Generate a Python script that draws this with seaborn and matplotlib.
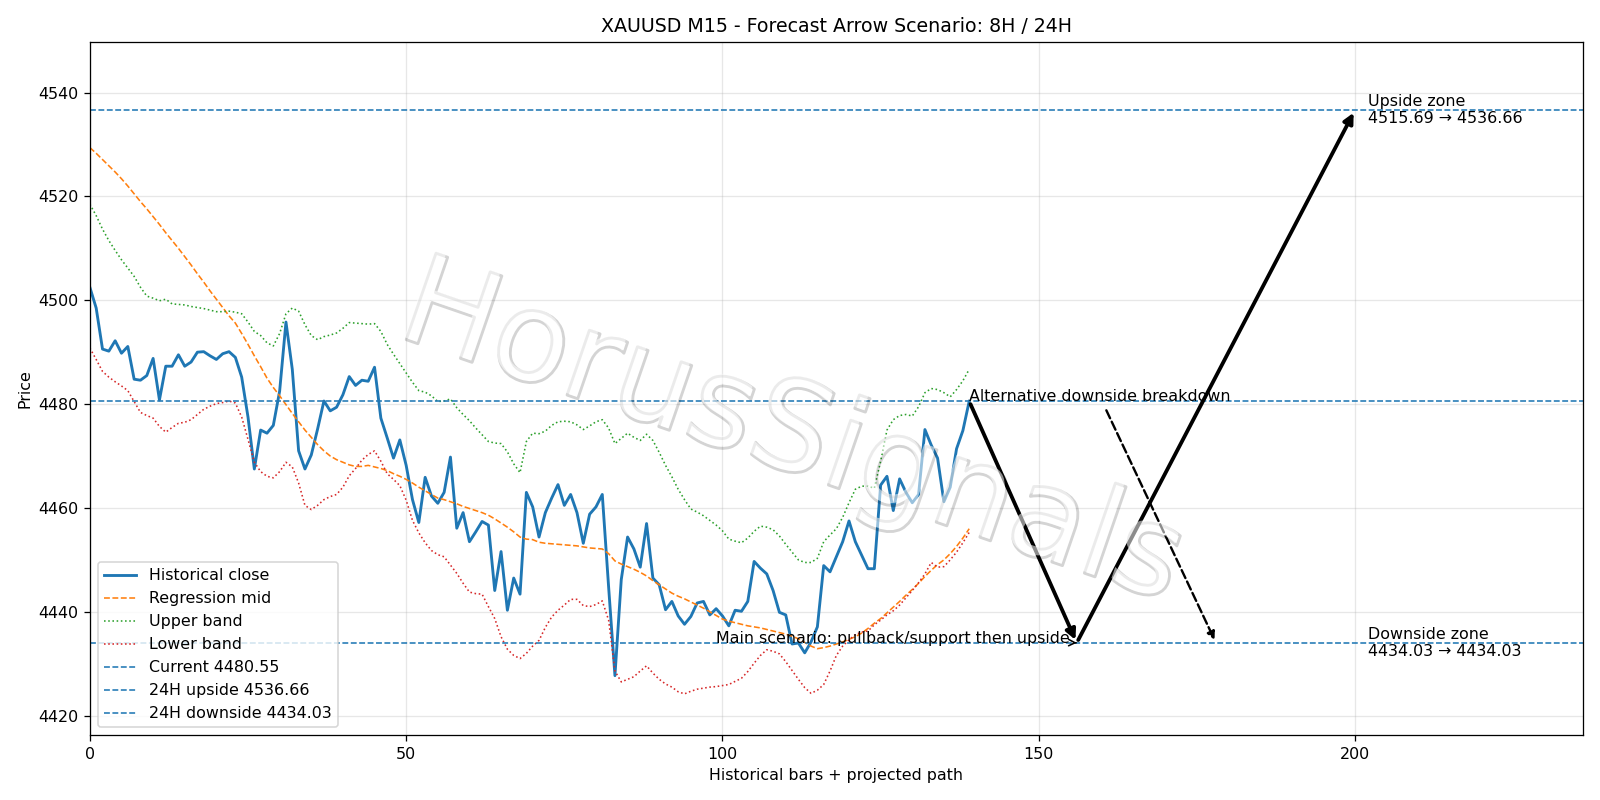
import numpy as np
import pandas as pd
import matplotlib
matplotlib.use("Agg")
import matplotlib.pyplot as plt
import matplotlib.patheffects as pe
import seaborn as sns

# ---------------- data ----------------
close = [4502.5, 4498.5, 4490.6, 4490.2, 4492.2, 4489.8, 4491.1, 4484.8, 4484.6, 4485.5,
         4488.8, 4480.8, 4487.3, 4487.3, 4489.5, 4487.3, 4488.1, 4490.0, 4490.1, 4489.3,
         4488.6, 4489.7, 4490.1, 4489.0, 4485.2, 4477.5, 4467.5, 4475.0, 4474.4, 4475.9,
         4482.5, 4495.8, 4486.7, 4471.0, 4467.5, 4470.2, 4475.2, 4480.6, 4478.7, 4479.4,
         4481.8, 4485.3, 4483.6, 4484.6, 4484.4, 4487.1, 4477.3, 4473.5, 4469.6, 4473.1,
         4468.2, 4461.6, 4457.2, 4465.9, 4462.3, 4460.9, 4463.0, 4469.8, 4456.1, 4459.1,
         4453.5, 4455.4, 4457.4, 4456.7, 4444.1, 4451.6, 4440.3, 4446.5, 4443.4, 4463.0,
         4460.2, 4454.4, 4459.1, 4461.9, 4464.5, 4460.5, 4462.6, 4459.1, 4453.2, 4458.8,
         4460.2, 4462.6, 4444.8, 4427.7, 4446.2, 4454.4, 4452.1, 4448.6, 4457.0, 4446.5,
         4445.2, 4440.4, 4442.0, 4439.2, 4437.6, 4439.1, 4441.7, 4442.0, 4439.4, 4440.6,
         4439.2, 4437.3, 4440.3, 4440.1, 4442.0, 4449.7, 4448.4, 4447.3, 4444.1, 4439.9,
         4439.4, 4433.8, 4434.0, 4432.1, 4434.2, 4437.1, 4448.9, 4447.7, 4450.6, 4453.5,
         4457.5, 4453.5, 4450.9, 4448.3, 4448.3, 4464.4, 4466.1, 4459.5, 4465.6, 4463.0,
         4461.0, 4462.6, 4475.1, 4472.1, 4469.6, 4461.2, 4464.0, 4471.4, 4474.9, 4480.55]

reg_mid = [4529.4, 4528.3, 4527.1, 4525.9, 4524.7, 4523.4, 4522.0, 4520.5, 4519.0, 4517.6,
           4516.1, 4514.6, 4513.0, 4511.5, 4510.0, 4508.4, 4506.8, 4505.1, 4503.5, 4501.8,
           4500.2, 4498.6, 4497.0, 4495.6, 4493.6, 4491.5, 4489.3, 4487.2, 4485.0, 4483.2,
           4481.6, 4479.9, 4478.2, 4476.6, 4475.0, 4473.6, 4472.2, 4471.0, 4470.0, 4469.3,
           4468.8, 4468.3, 4468.0, 4468.0, 4468.2, 4467.9, 4467.6, 4467.2, 4466.6, 4466.1,
           4465.5, 4464.8, 4464.0, 4463.3, 4462.6, 4461.9, 4461.6, 4461.2, 4460.8, 4460.3,
           4459.9, 4459.5, 4459.1, 4458.6, 4457.9, 4457.1, 4456.3, 4455.4, 4454.4, 4454.0,
           4453.9, 4453.4, 4453.2, 4453.1, 4453.0, 4452.9, 4452.8, 4452.7, 4452.5, 4452.3,
           4452.2, 4452.1, 4451.2, 4449.8, 4449.2, 4448.7, 4448.2, 4447.6, 4446.9, 4446.0,
           4445.2, 4444.4, 4443.6, 4443.0, 4442.5, 4441.9, 4441.3, 4440.7, 4440.0, 4439.3,
           4438.6, 4438.2, 4437.9, 4437.6, 4437.3, 4437.1, 4436.9, 4436.6, 4436.3, 4436.0,
           4435.7, 4435.3, 4434.8, 4434.1, 4433.4, 4432.9, 4433.1, 4433.4, 4433.8, 4434.2,
           4434.7, 4435.2, 4435.9, 4436.8, 4437.8, 4438.7, 4439.8, 4440.9, 4442.0, 4443.2,
           4444.3, 4445.5, 4446.8, 4448.0, 4449.1, 4450.0, 4451.2, 4452.6, 4454.2, 4456.0]

upper_band = [4518.5, 4516.3, 4513.7, 4511.5, 4509.6, 4507.8, 4506.2, 4504.6, 4502.5, 4500.8,
              4500.4, 4499.9, 4500.2, 4499.3, 4499.2, 4499.1, 4498.8, 4498.6, 4498.4, 4498.1,
              4497.8, 4497.8, 4497.9, 4497.7, 4497.4, 4495.8, 4494.0, 4493.2, 4491.8, 4491.2,
              4493.6, 4497.4, 4498.5, 4497.9, 4495.3, 4493.2, 4492.4, 4493.0, 4493.3, 4493.7,
              4494.6, 4495.7, 4495.6, 4495.5, 4495.4, 4495.5, 4494.0, 4491.5, 4489.6, 4487.8,
              4486.0, 4484.2, 4482.6, 4482.3, 4481.6, 4480.5, 4480.6, 4481.0, 4479.3, 4478.0,
              4476.8, 4475.4, 4474.1, 4472.8, 4472.5, 4472.4, 4470.8, 4468.5, 4466.8, 4472.8,
              4474.4, 4474.3, 4474.8, 4475.9, 4476.6, 4476.7, 4476.6, 4476.0, 4475.1, 4475.8,
              4476.6, 4477.0, 4475.4, 4472.4, 4473.4, 4474.4, 4473.6, 4473.0, 4474.2, 4473.0,
              4470.7, 4468.2, 4466.0, 4463.6, 4461.6, 4459.8, 4459.2, 4458.5, 4457.6, 4456.7,
              4455.6, 4454.0, 4453.6, 4453.3, 4454.2, 4455.5, 4456.5, 4456.3, 4455.8, 4454.6,
              4453.0, 4451.5, 4450.0, 4449.5, 4449.5, 4450.3, 4453.5, 4454.8, 4456.0, 4458.2,
              4461.0, 4463.6, 4464.2, 4464.2, 4463.8, 4469.0, 4475.0, 4477.0, 4477.8, 4478.0,
              4477.7, 4479.5, 4482.2, 4483.0, 4482.8, 4482.2, 4481.4, 4482.8, 4484.5, 4486.7]

lower_band = [4490.8, 4488.6, 4486.3, 4485.2, 4484.3, 4483.5, 4482.6, 4480.5, 4478.4, 4477.8,
              4477.3, 4475.7, 4474.6, 4475.5, 4476.3, 4476.5, 4477.0, 4478.0, 4479.0, 4479.6,
              4480.1, 4480.3, 4480.6, 4480.2, 4477.5, 4473.2, 4468.8, 4467.0, 4466.1, 4465.8,
              4467.0, 4468.8, 4467.9, 4464.8, 4460.5, 4459.7, 4460.5, 4461.6, 4462.2, 4462.6,
              4464.0, 4466.2, 4467.6, 4469.2, 4470.3, 4471.0, 4469.0, 4466.6, 4465.5, 4464.3,
              4461.5, 4457.6, 4455.2, 4453.3, 4451.8, 4451.0, 4450.6, 4449.0, 4447.4, 4445.5,
              4443.8, 4443.5, 4443.4, 4441.0, 4438.7, 4435.2, 4432.8, 4431.6, 4431.0, 4432.0,
              4433.4, 4434.5, 4437.0, 4439.0, 4440.3, 4441.3, 4442.4, 4442.4, 4441.2, 4441.0,
              4441.4, 4442.1, 4438.4, 4428.6, 4426.5, 4427.0, 4427.5, 4428.6, 4429.6, 4428.2,
              4427.0, 4426.1, 4425.5, 4424.6, 4424.2, 4424.7, 4425.1, 4425.3, 4425.5, 4425.6,
              4425.8, 4426.0, 4426.6, 4427.2, 4428.5, 4430.1, 4431.6, 4432.7, 4432.4, 4431.9,
              4430.4, 4428.7, 4427.0, 4425.4, 4424.3, 4424.9, 4426.0, 4428.6, 4431.6, 4433.4,
              4434.6, 4435.6, 4436.1, 4436.3, 4437.5, 4438.4, 4439.4, 4440.2, 4441.3, 4442.7,
              4444.1, 4445.6, 4447.3, 4449.5, 4448.6, 4448.7, 4450.0, 4451.5, 4453.3, 4455.3]

current_price = 4480.55
upside_target = 4536.66
downside_target = 4434.03
upside_zone = (4515.69, 4536.66)
downside_zone = (4434.03, 4434.03)

# projected path (bar index, price)
last_bar = 139
pullback_bar = 156
upside_bar = 200
alt_bar = 178
main_label_bar = 99
zone_label_bar = 202

title = "XAUUSD M15 - Forecast Arrow Scenario: 8H / 24H"
watermark = "HorusSignals"

bars = np.arange(len(close))
df = pd.DataFrame({"bar": bars, "close": close, "mid": reg_mid,
                   "upper": upper_band, "lower": lower_band})

# ---------------- figure ----------------
fig, ax = plt.subplots(figsize=(14, 7), dpi=1600 / 14)

sns.lineplot(data=df, x="bar", y="close", ax=ax, color="C0", lw=1.8,
             label="Historical close")
sns.lineplot(data=df, x="bar", y="mid", ax=ax, color="C1", lw=1.0,
             linestyle="--", label="Regression mid")
sns.lineplot(data=df, x="bar", y="upper", ax=ax, color="C2", lw=1.0,
             linestyle=":", label="Upper band")
sns.lineplot(data=df, x="bar", y="lower", ax=ax, color="C3", lw=1.0,
             linestyle=":", label="Lower band")

ax.axhline(current_price, color="C0", lw=1.0, linestyle="--",
           label=f"Current {current_price:.2f}")
ax.axhline(upside_target, color="C0", lw=1.0, linestyle="--",
           label=f"24H upside {upside_target:.2f}")
ax.axhline(downside_target, color="C0", lw=1.0, linestyle="--",
           label=f"24H downside {downside_target:.2f}")

# main scenario arrows
arrow_kw = dict(arrowstyle="-|>", color="black", lw=2.4, mutation_scale=13)
ax.annotate("", xy=(pullback_bar, downside_target), xytext=(last_bar, current_price),
            arrowprops=arrow_kw)
ax.annotate("", xy=(upside_bar, upside_target), xytext=(pullback_bar, downside_target),
            arrowprops=arrow_kw)
ax.annotate("Main scenario: pullback/support then upside",
            xy=(pullback_bar, downside_target), xytext=(main_label_bar, downside_target),
            fontsize=10, arrowprops=dict(arrowstyle="->", color="black", lw=1.0))

# alternative scenario
ax.annotate("Alternative downside breakdown",
            xy=(alt_bar, downside_target), xytext=(last_bar, current_price),
            fontsize=10,
            arrowprops=dict(arrowstyle="-|>", color="black", lw=1.5,
                            linestyle="--", mutation_scale=10))

ax.text(zone_label_bar, upside_target,
        f"Upside zone\n{upside_zone[0]:.2f} \u2192 {upside_zone[1]:.2f}",
        fontsize=10, va="center", ha="left")
ax.text(zone_label_bar, downside_target,
        f"Downside zone\n{downside_zone[0]:.2f} \u2192 {downside_zone[1]:.2f}",
        fontsize=10, va="center", ha="left")

ax.set_xlim(0, 236)
ax.set_ylim(4416.2, 4549.8)
ax.set_title(title, fontsize=12)
ax.set_xlabel("Historical bars + projected path")
ax.set_ylabel("Price")
ax.grid(True, alpha=0.3)
ax.legend(loc="lower left")

fig.tight_layout()

wm = fig.text(0.494, 0.458, watermark, fontsize=79, color="white", alpha=0.55,
              ha="center", va="center", rotation=-19, zorder=10)
wm.set_path_effects([
    pe.SimpleLineShadow(offset=(1.2, -1.6), shadow_color="black", alpha=0.17,
                        linewidth=1.8),
    pe.Normal(),
])

fig.savefig("out.png", dpi=1600 / 14)
